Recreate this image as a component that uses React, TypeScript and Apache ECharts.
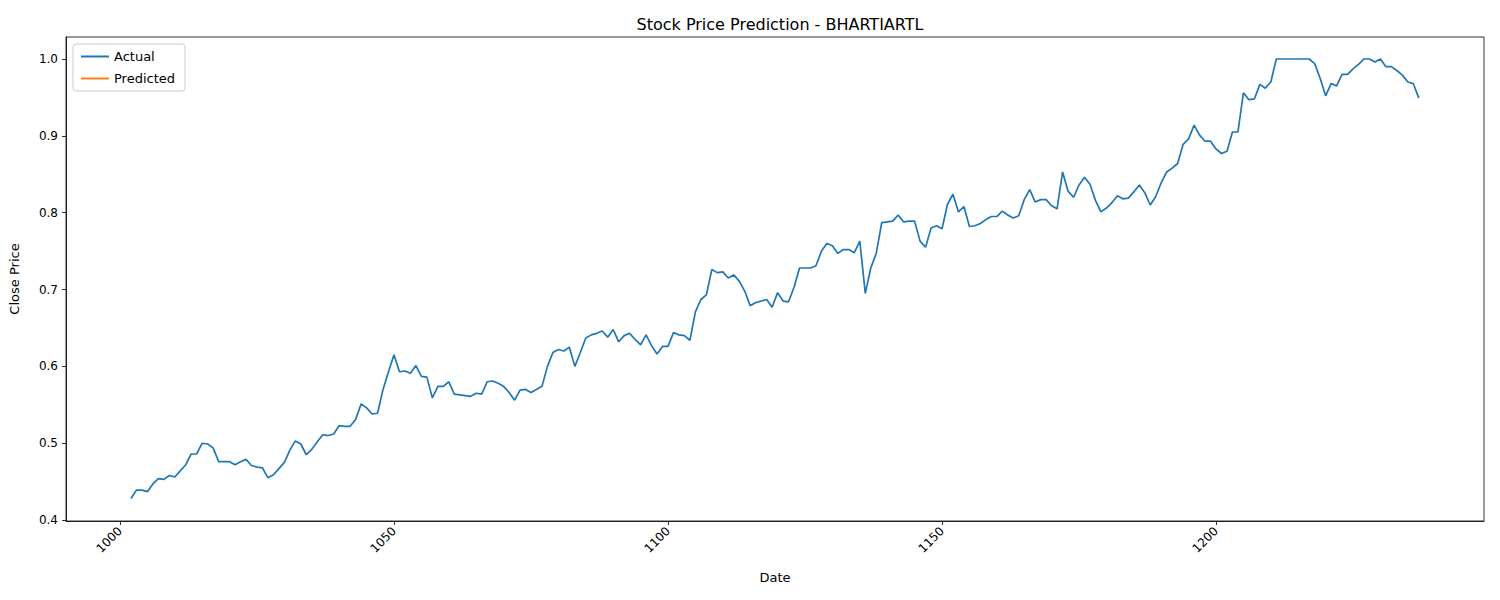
import React, { useEffect, useRef } from "react";
import * as echarts from "echarts";

const startDay = 1002;
const actual = [
  0.428, 0.439, 0.439, 0.437, 0.447, 0.454, 0.453, 0.458, 0.456, 0.464,
  0.472, 0.486, 0.486, 0.5, 0.499, 0.494, 0.476, 0.476, 0.476, 0.472,
  0.476, 0.479, 0.471, 0.469, 0.468, 0.455, 0.459, 0.467, 0.475, 0.491,
  0.503, 0.499, 0.485, 0.492, 0.502, 0.511, 0.51, 0.512, 0.523, 0.522,
  0.522, 0.531, 0.551, 0.546, 0.538, 0.539, 0.57, 0.593, 0.615, 0.593,
  0.594, 0.591, 0.601, 0.587, 0.586, 0.559, 0.574, 0.574, 0.58, 0.564,
  0.563, 0.562, 0.561, 0.565, 0.564, 0.58, 0.581, 0.578, 0.574, 0.566,
  0.556, 0.569, 0.57, 0.566, 0.57, 0.574, 0.6, 0.618, 0.622, 0.62,
  0.625, 0.6, 0.618, 0.637, 0.641, 0.643, 0.646, 0.638, 0.648, 0.632,
  0.64, 0.643, 0.635, 0.628, 0.641, 0.627, 0.616, 0.626, 0.626, 0.644,
  0.641, 0.64, 0.634, 0.671, 0.687, 0.693, 0.726, 0.722, 0.723, 0.715,
  0.719, 0.711, 0.698, 0.679, 0.683, 0.685, 0.687, 0.677, 0.696, 0.685,
  0.684, 0.703, 0.728, 0.728, 0.728, 0.731, 0.75, 0.76, 0.757, 0.747,
  0.752, 0.752, 0.748, 0.763, 0.695, 0.728, 0.747, 0.787, 0.788, 0.789,
  0.797, 0.788, 0.789, 0.789, 0.763, 0.755, 0.78, 0.783, 0.779, 0.811,
  0.824, 0.801, 0.808, 0.782, 0.783, 0.786, 0.791, 0.795, 0.795, 0.802,
  0.797, 0.793, 0.796, 0.817, 0.83, 0.814, 0.817, 0.817, 0.809, 0.805,
  0.853, 0.828, 0.82, 0.836, 0.846, 0.837, 0.816, 0.801, 0.806, 0.813,
  0.822, 0.818, 0.819, 0.827, 0.836, 0.826, 0.81, 0.821, 0.839, 0.853,
  0.858, 0.864, 0.889, 0.896, 0.914, 0.901, 0.893, 0.893, 0.883, 0.877,
  0.88, 0.905, 0.905, 0.956, 0.947, 0.948, 0.967, 0.962, 0.97, 1.0,
  1.0, 1.0, 1.0, 1.0, 1.0, 1.0, 0.994, 0.975, 0.952, 0.968,
  0.965, 0.98, 0.98, 0.987, 0.993, 1.0, 1.0, 0.996, 1.0, 0.99,
  0.99, 0.985, 0.979, 0.97, 0.968, 0.949,
];
const predicted: number[][] = [];
const xTicks = [1000, 1050, 1100, 1150, 1200];
const yTicks = [0.4, 0.5, 0.6, 0.7, 0.8, 0.9, 1.0];

export default function App() {
  const ref = useRef<HTMLDivElement>(null);
  useEffect(() => {
    document.body.style.margin = "0";
    const chart = echarts.init(ref.current!, null, { renderer: "svg" });
    const font = "DejaVu Sans";
    const axisCommon = {
      axisLine: { show: true, lineStyle: { color: "#000", width: 0.8 } },
      axisTick: { show: true, length: 4, lineStyle: { color: "#000", width: 0.8 } },
      splitLine: { show: false },
      nameTextStyle: { color: "#000", fontSize: 13, fontFamily: font },
    };
    chart.setOption({
      animation: false,
      textStyle: { fontFamily: font },
      title: {
        text: "Stock Price Prediction - BHARTIARTL",
        left: 775, top: 11, textAlign: "center",
        textStyle: { fontSize: 16, fontWeight: "normal", color: "#000", fontFamily: font },
      },
      legend: {
        left: 73, top: 44, orient: "vertical",
        borderColor: "#ccc", borderWidth: 1, borderRadius: 3, padding: [6, 10, 6, 8],
        itemWidth: 28, itemHeight: 2, itemGap: 9, icon: "rect",
        textStyle: { fontSize: 13, color: "#000", fontFamily: font },
        data: ["Actual", "Predicted"],
      },
      grid: {
        left: 66, right: 16, top: 37, bottom: 79, show: true,
        borderColor: "#000", borderWidth: 0.8, backgroundColor: "transparent",
      },
      xAxis: {
        type: "value", min: 990.15, max: 1248.9,
        name: "Date", nameLocation: "middle", nameGap: 50,
        ...axisCommon,
        axisTick: { ...axisCommon.axisTick, customValues: xTicks },
        axisLabel: {
          customValues: xTicks, rotate: 45, color: "#000", fontSize: 12, fontFamily: font, margin: 8,
          formatter: (v: number) => String(Math.round(v)),
        },
      },
      yAxis: {
        type: "value", min: 0.3988, max: 1.0286,
        name: "Close Price", nameLocation: "middle", nameGap: 45,
        ...axisCommon,
        axisTick: { ...axisCommon.axisTick, customValues: yTicks },
        axisLabel: {
          customValues: yTicks, color: "#000", fontSize: 12, fontFamily: font,
          formatter: (v: number) => v.toFixed(1),
        },
      },
      series: [
        {
          name: "Actual", type: "line", showSymbol: false, color: "#1f77b4",
          lineStyle: { width: 1.7 },
          data: actual.map((v, i) => [startDay + i, v]),
        },
        {
          name: "Predicted", type: "line", showSymbol: false, color: "#ff7f0e",
          lineStyle: { width: 1.7 }, data: predicted,
        },
      ],
    });
    return () => chart.dispose();
  }, []);
  return <div ref={ref} style={{ width: 1500, height: 600 }} />;
}
